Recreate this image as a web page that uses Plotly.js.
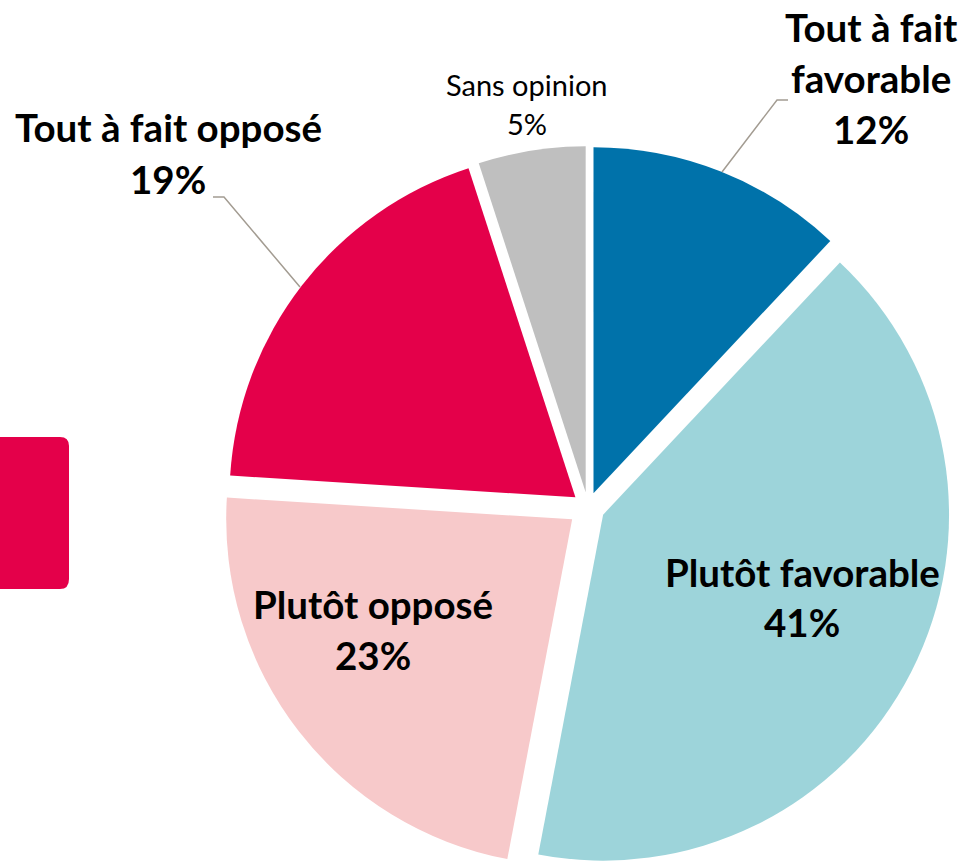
<!DOCTYPE html>
<html>
<head>
<meta charset="utf-8">
<script src="https://cdn.plot.ly/plotly-3.0.1.min.js"></script>
<style>
html,body{margin:0;padding:0;overflow:hidden;background:#fff;}
#chart{width:961px;height:880px;}
</style>
</head>
<body>
<div id="chart"></div>
<script>
// ---- data ----
const labels = ['Tout à fait favorable', 'Plutôt favorable', 'Plutôt opposé', 'Tout à fait opposé', 'Sans opinion'];
const values = [12, 41, 23, 19, 5];
// label lines as displayed on the chart
const labelLines = [
  ['Tout à fait', 'favorable'],
  ['Plutôt favorable'],
  ['Plutôt opposé'],
  ['Tout à fait opposé'],
  ['Sans opinion']
];

// ---- style ----
const colors = ['#0072AA', '#9DD4DA', '#F7C9CA', '#E4004A', '#BFBFBF'];
const pulls = [0.043, 0.049, 0.058, 0.046, 0.043];
const W = 961, H = 880;
const px = x => x / W;
const py = y => 1 - y / H;

// label placement (pixel centre x, first line centre y, line pitch, font size, bold)
const labelPos = [
  {x: 871, y: 27, pitch: 51, size: 38.5, bold: true},
  {x: 802, y: 572, pitch: 50, size: 38.5, bold: true},
  {x: 373, y: 604, pitch: 51, size: 38.5, bold: true},
  {x: 168, y: 127, pitch: 52, size: 38.5, bold: true},
  {x: 527, y: 84, pitch: 40, size: 29, bold: false}
];

const annotations = [];
labels.forEach((lab, i) => {
  const p = labelPos[i];
  const lines = labelLines[i].concat([values[i] + '%']);
  lines.forEach((t, k) => {
    annotations.push({
      xref: 'paper', yref: 'paper',
      x: px(p.x), y: py(p.y + k * p.pitch),
      xanchor: 'center', yanchor: 'middle',
      text: t, showarrow: false,
      font: {family: 'Lato, "Open Sans", sans-serif', size: p.size, color: '#000', weight: p.bold ? 700 : 400}
    });
  });
});

const leader = '#A39C92';
const path = pts => pts.map((p, k) => (k ? 'L' : 'M') + px(p[0]) + ',' + py(p[1])).join(' ');
const shapes = [
  {type: 'path', xref: 'paper', yref: 'paper', path: path([[722, 172], [777, 100], [788, 100]]), line: {color: leader, width: 1.5}},
  {type: 'path', xref: 'paper', yref: 'paper', path: path([[213, 197], [224, 197], [300, 287]]), line: {color: leader, width: 1.5}},
  // partial red rounded box at left edge
  {type: 'path', xref: 'paper', yref: 'paper',
   path: 'M' + px(-10) + ',' + py(437) + ' L' + px(60) + ',' + py(437) +
         ' Q' + px(69) + ',' + py(437) + ' ' + px(69) + ',' + py(446) +
         ' L' + px(69) + ',' + py(579) +
         ' Q' + px(69) + ',' + py(589) + ' ' + px(60) + ',' + py(589) +
         ' L' + px(-10) + ',' + py(589) + ' Z',
   fillcolor: '#E4004A', line: {width: 0}}
];

const trace = {
  type: 'pie',
  labels: labels,
  values: values,
  sort: false,
  direction: 'clockwise',
  rotation: 0,
  pull: pulls,
  marker: {colors: colors, line: {width: 0}},
  textinfo: 'none',
  hoverinfo: 'none',
  showlegend: false,
  domain: {x: [222 / W, 954 / W], y: [1 - 873 / H, 1 - 141 / H]}
};

const layout = {
  width: W, height: H,
  margin: {l: 0, r: 0, t: 0, b: 0},
  paper_bgcolor: '#fff',
  showlegend: false,
  annotations: annotations,
  shapes: shapes
};

Plotly.newPlot('chart', [trace], layout, {staticPlot: true, displayModeBar: false});
</script>
</body>
</html>
